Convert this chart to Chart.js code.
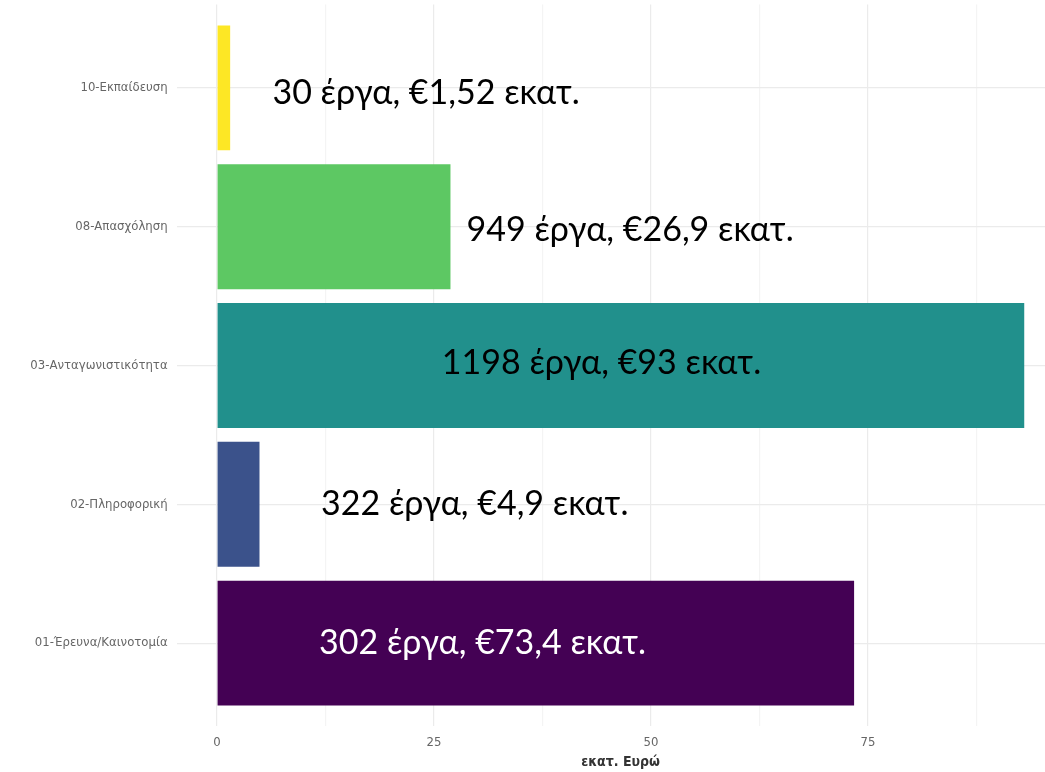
<!DOCTYPE html>
<html>
<head>
<meta charset="utf-8">
<script src="https://cdn.jsdelivr.net/npm/chart.js@4.4.0/dist/chart.umd.min.js"></script>
<style>
  html, body { margin: 0; padding: 0; background: #fff; overflow: hidden; }
  #wrap { width: 1090px; height: 772px; position: relative; }
</style>
</head>
<body>
<div id="wrap"><canvas id="chart"></canvas></div>
<script>
// bottom to top, as on the y axis
const categories = ['01-Έρευνα/Καινοτομία', '02-Πληροφορική', '03-Ανταγωνιστικότητα', '08-Απασχόληση', '10-Εκπαίδευση'];
const amounts    = [73.4, 4.9, 93, 26.9, 1.52];
const notes      = ['302 έργα, €73,4 εκατ.', '322 έργα, €4,9 εκατ.', '1198 έργα, €93 εκατ.', '949 έργα, €26,9 εκατ.', '30 έργα, €1,52 εκατ.'];
const barColors  = ['#440154', '#3B528B', '#21908C', '#5DC863', '#FDE725'];
const xTicks     = [0, 25, 50, 75];

const tickFont = { family: "'DejaVu Sans Condensed', 'Roboto', sans-serif", size: 13 };
const gridMajor = '#ebebeb';
const gridMinor = '#f4f4f4';

// big text boxes laid over the bars
const notesPlugin = {
  id: 'barNotes',
  afterDatasetsDraw(chart) {
    const ctx = chart.ctx;
    const xs = chart.scales.x, ys = chart.scales.y;
    const centers = [30.6, 29.7, 44.3, 47.6, 24.1];   // text centre, in εκατ.
    const nudge   = [0, 0, -2, 3, 5];
    ctx.save();
    ctx.font = "34px 'Lato', 'Open Sans', sans-serif";
    ctx.textAlign = 'center';
    ctx.textBaseline = 'middle';
    notes.forEach((t, i) => {
      ctx.fillStyle = i === 0 ? '#ffffff' : '#000000';
      ctx.fillText(t, xs.getPixelForValue(centers[i]), ys.getPixelForValue(i + 1) + nudge[i]);
    });
    ctx.restore();
  }
};

new Chart(document.getElementById('chart'), {
  type: 'bar',
  data: {
    datasets: [{
      data: amounts.map((v, i) => ({ x: v, y: i + 1 })),
      backgroundColor: barColors,
      borderWidth: 0,
      barPercentage: 0.9,
      categoryPercentage: 1
    }]
  },
  options: {
    indexAxis: 'y',
    responsive: true, maintainAspectRatio: false,
    animation: false,
    layout: { padding: { top: 4.6, right: 25.4, left: 0, bottom: 0 } },
    plugins: { legend: { display: false }, tooltip: { enabled: false } },
    scales: {
      x: {
        type: 'linear', min: -4.65, max: 97.65,
        afterBuildTicks: s => { s.ticks = [0, 12.5, 25, 37.5, 50, 62.5, 75, 87.5].map(v => ({ value: v })); },
        afterFit: s => { s.height = 45.6; s.paddingLeft = 0; s.paddingRight = 0; },
        ticks: {
          autoSkip: false, maxRotation: 0, padding: 8,
          color: '#666', font: tickFont,
          callback: v => xTicks.includes(v) ? v : ''
        },
        grid: {
          color: c => xTicks.includes(c.tick && c.tick.value) ? gridMajor : gridMinor,
          lineWidth: 1.2, drawTicks: false
        },
        border: { display: false },
        title: {
          display: true, text: 'εκατ. Ευρώ', color: '#333',
          font: { family: "'DejaVu Sans Condensed', 'Roboto', sans-serif", size: 14, weight: 'bold' },
          padding: { top: 0, bottom: 1 }
        }
      },
      y: {
        type: 'linear', min: 0.4, max: 5.6, offset: false,
        afterBuildTicks: s => { s.ticks = categories.map((c, i) => ({ value: i + 1 })); },
        afterFit: s => { s.width = 176.6; s.paddingTop = 0; s.paddingBottom = 0; },
        ticks: {
          autoSkip: false, padding: 9,
          color: '#666', font: tickFont,
          callback: v => categories[v - 1]
        },
        grid: { color: gridMajor, lineWidth: 1.2, drawTicks: false, offset: false },
        border: { display: false }
      }
    }
  },
  plugins: [notesPlugin]
});
</script>
</body>
</html>
